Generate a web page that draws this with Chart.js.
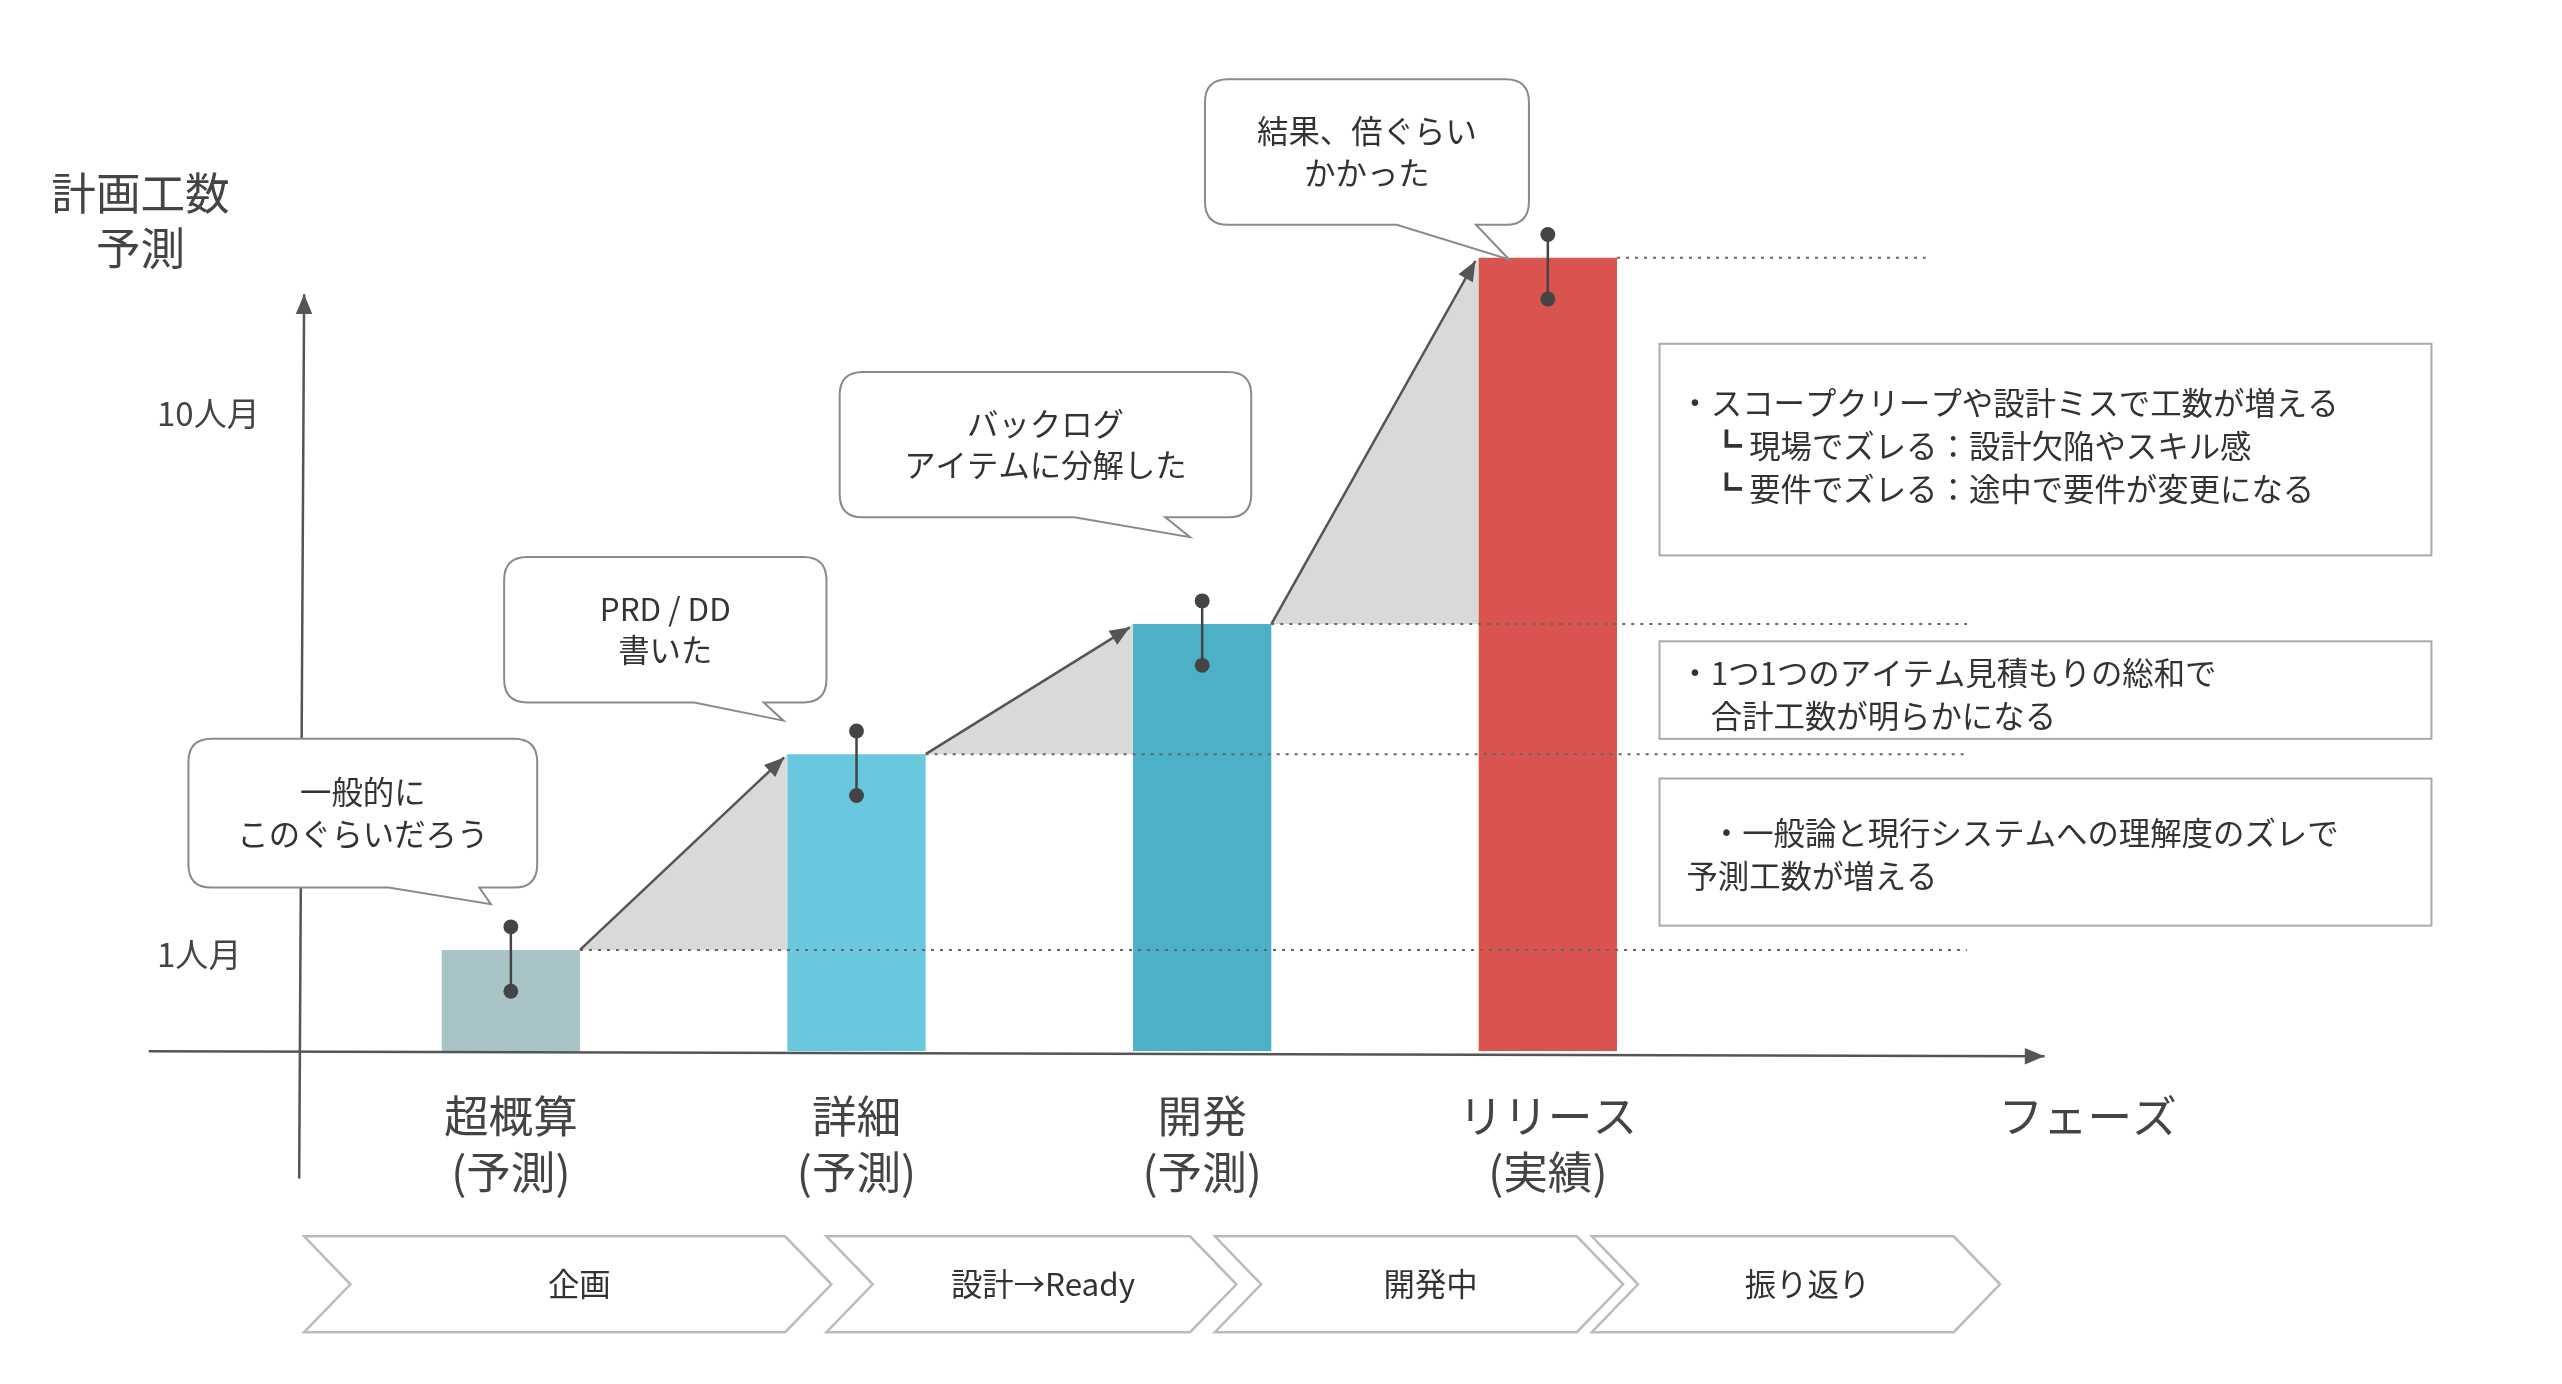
<!DOCTYPE html>
<html>
<head>
<meta charset="utf-8">
<script src="https://cdn.jsdelivr.net/npm/chart.js@4.4.0/dist/chart.umd.min.js"></script>
<style>
  html, body { margin: 0; padding: 0; background: #fff; }
  canvas { display: block; }
</style>
</head>
<body>
<canvas id="chart" width="2562" height="1384"></canvas>
<script>
// データ
const phases = ['超概算\n(予測)', '詳細\n(予測)', '開発\n(予測)', 'リリース\n(実績)'];
const effort = [1, 2.3, 4, 19];          // 人月（対数スケール上で読み取り）
const barColors = ['#a9c4c7', '#69c8dd', '#4cb0c6', '#d9534f'];
const yTicks = [1, 10];
const yTickLabels = ['1人月', '10人月'];
const callouts = ['一般的に\nこのぐらいだろう', 'PRD / DD\n書いた', 'バックログ\nアイテムに分解した', '結果、倍ぐらい\nかかった'];
const notes = [
  ['・スコープクリープや設計ミスで工数が増える', '　┗ 現場でズレる：設計欠陥やスキル感', '　┗ 要件でズレる：途中で要件が変更になる'],
  ['・1つ1つのアイテム見積もりの総和で', '　合計工数が明らかになる'],
  ['　・一般論と現行システムへの理解度のズレで', ' 予測工数が増える']
];
const stages = ['企画', '設計→Ready', '開発中', '振り返り'];

const S = 2562 / 1550;
const P = v => v * S;
const FONT = '"Noto Sans CJK JP", "Noto Sans", sans-serif';

function arrowLine(ctx, x1, y1, x2, y2, color, w) {
    ctx.strokeStyle = color; ctx.fillStyle = color; ctx.lineWidth = w;
    ctx.beginPath(); ctx.moveTo(x1, y1); ctx.lineTo(x2, y2); ctx.stroke();
    const a = Math.atan2(y2 - y1, x2 - x1), L = P(12), W = P(5);
    ctx.beginPath();
    ctx.moveTo(x2, y2);
    ctx.lineTo(x2 - L * Math.cos(a) + W * Math.sin(a), y2 - L * Math.sin(a) - W * Math.cos(a));
    ctx.lineTo(x2 - L * Math.cos(a) - W * Math.sin(a), y2 - L * Math.sin(a) + W * Math.cos(a));
    ctx.closePath(); ctx.fill();
}

function drawCallout(ctx, box, tail, lines) {
    const [x, y, w, h] = box.map(P), r = P(14);
    const [b1, b2, tx, ty] = tail.map(P);
    ctx.beginPath();
    ctx.moveTo(x + r, y);
    ctx.lineTo(x + w - r, y); ctx.quadraticCurveTo(x + w, y, x + w, y + r);
    ctx.lineTo(x + w, y + h - r); ctx.quadraticCurveTo(x + w, y + h, x + w - r, y + h);
    ctx.lineTo(b2, y + h); ctx.lineTo(tx, ty); ctx.lineTo(b1, y + h);
    ctx.lineTo(x + r, y + h); ctx.quadraticCurveTo(x, y + h, x, y + h - r);
    ctx.lineTo(x, y + r); ctx.quadraticCurveTo(x, y, x + r, y);
    ctx.closePath();
    ctx.fillStyle = '#fff'; ctx.fill();
    ctx.strokeStyle = '#8a8a8a'; ctx.lineWidth = 2; ctx.stroke();
    ctx.fillStyle = '#333'; ctx.font = `${P(19)}px ${FONT}`;
    ctx.textAlign = 'center'; ctx.textBaseline = 'middle';
    const lh = P(25), cy = y + h / 2 - (lines.length - 1) * lh / 2;
    lines.forEach((t, i) => ctx.fillText(t, x + w / 2, cy + i * lh));
}

const decor = {
    id: 'decor',
    beforeDatasetsDraw(chart) {
        const ctx = chart.ctx, meta = chart.getDatasetMeta(0), y = chart.scales.y;
        const bars = meta.data;
        ctx.save();
        // 灰色の三角形と矢印
        for (let i = 1; i < bars.length; i++) {
            const p = bars[i - 1], c = bars[i];
            const x1 = p.x + p.width / 2, y1 = p.y, x2 = c.x - c.width / 2, y2 = c.y;
            ctx.fillStyle = '#d9d9d9';
            ctx.beginPath(); ctx.moveTo(x1, y1); ctx.lineTo(x2, y2); ctx.lineTo(x2, y1); ctx.closePath(); ctx.fill();
        }
        ctx.restore();
    },
    afterDatasetsDraw(chart) {
        const ctx = chart.ctx, meta = chart.getDatasetMeta(0), ys = chart.scales.y;
        const bars = meta.data, base = ys.bottom;
        ctx.save();
        for (let i = 1; i < bars.length; i++) {
            const p = bars[i - 1], c = bars[i];
            arrowLine(ctx, p.x + p.width / 2, p.y, c.x - c.width / 2 - P(2), c.y + P(2), '#555', 2.5);
        }
        // 点線
        ctx.setLineDash([3, 6]); ctx.strokeStyle = '#666'; ctx.lineWidth = 2;
        bars.forEach((b, i) => {
            const end = i === bars.length - 1 ? P(1165) : P(1190);
            ctx.beginPath(); ctx.moveTo(b.x + b.width / 2, b.y); ctx.lineTo(end, b.y); ctx.stroke();
        });
        ctx.setLineDash([]);
        // 目盛りピン
        bars.forEach(b => {
            ctx.strokeStyle = '#444'; ctx.fillStyle = '#444'; ctx.lineWidth = 2.5;
            ctx.beginPath(); ctx.moveTo(b.x, b.y - P(14)); ctx.lineTo(b.x, b.y + P(25)); ctx.stroke();
            [b.y - P(14), b.y + P(25)].forEach(yy => { ctx.beginPath(); ctx.arc(b.x, yy, P(4.5), 0, Math.PI * 2); ctx.fill(); });
        });
        // 軸
        arrowLine(ctx, P(90), base, P(1237), base + P(3), '#555', 2.5);
        arrowLine(ctx, P(181), P(713), P(184), P(178), '#555', 2.5);
        ctx.fillStyle = '#444'; ctx.font = `${P(20)}px ${FONT}`;
        ctx.textAlign = 'left'; ctx.textBaseline = 'middle';
        yTicks.forEach((v, i) => ctx.fillText(yTickLabels[i], P(95), ys.getPixelForValue(v) + P(3)));
        ctx.font = `${P(27)}px ${FONT}`; ctx.textAlign = 'center';
        ctx.fillText('計画工数', P(85), P(117)); ctx.fillText('予測', P(85), P(150));
        ctx.fillText('フェーズ', P(1263), P(675));
        bars.forEach((b, i) => phases[i].split('\n').forEach((t, j) => ctx.fillText(t, b.x, P(675 + j * 34))));
        // 吹き出し
        drawCallout(ctx, [114, 447, 211, 90], [235, 290, 297, 547], callouts[0].split('\n'));
        drawCallout(ctx, [305, 337, 195, 88], [420, 462, 474, 436], callouts[1].split('\n'));
        drawCallout(ctx, [508, 225, 249, 88], [650, 705, 720, 325], callouts[2].split('\n'));
        drawCallout(ctx, [729, 48, 196, 88], [845, 893, 913, 157], callouts[3].split('\n'));
        // 右側のメモ
        const boxes = [[1004, 208, 467, 128, 244], [1004, 388, 467, 59, 407], [1004, 471, 467, 89, 504]];
        ctx.font = `${P(19)}px ${FONT}`; ctx.textAlign = 'left';
        boxes.forEach((bx, i) => {
            ctx.strokeStyle = '#aaa'; ctx.lineWidth = 2;
            ctx.strokeRect(P(bx[0]), P(bx[1]), P(bx[2]), P(bx[3]));
            ctx.fillStyle = '#333';
            notes[i].forEach((t, j) => ctx.fillText(t, P(1016), P(bx[4] + j * 26)));
        });
        // 工程シェブロン
        const chev = [[184, 503], [500, 748], [735, 982], [963, 1210]];
        chev.forEach((c, i) => {
            const x1 = P(c[0]), x2 = P(c[1]), t = P(748), bt = P(806), d = P(28), m = (t + bt) / 2;
            ctx.beginPath();
            ctx.moveTo(x1, t); ctx.lineTo(x2 - d, t); ctx.lineTo(x2, m); ctx.lineTo(x2 - d, bt);
            ctx.lineTo(x1, bt); ctx.lineTo(x1 + d, m); ctx.closePath();
            ctx.fillStyle = '#fff'; ctx.fill();
            ctx.strokeStyle = '#bbb'; ctx.lineWidth = 2.5; ctx.stroke();
            ctx.fillStyle = '#333'; ctx.textAlign = 'center';
            ctx.fillText(stages[i], (x1 + x2) / 2 + d / 4, m);
        });
        ctx.restore();
    }
};

new Chart(document.getElementById('chart'), {
    type: 'bar',
    data: {
        labels: phases,
        datasets: [{ data: effort, backgroundColor: barColors, borderWidth: 0, barPercentage: 0.4, categoryPercentage: 1 }]
    },
    options: {
        responsive: false,
        devicePixelRatio: 1,
        animation: false,
        layout: { padding: { left: P(204.5), right: 2562 - P(1041), top: P(50), bottom: 1384 - P(636) } },
        plugins: { legend: { display: false }, tooltip: { enabled: false } },
        scales: {
            x: { display: false },
            y: { type: 'logarithmic', min: 0.65, max: 40, display: false }
        }
    },
    plugins: [decor]
});
</script>
</body>
</html>
